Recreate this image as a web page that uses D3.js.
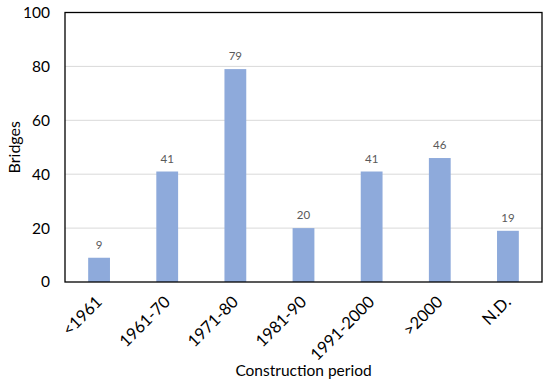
<!DOCTYPE html>
<html>
<head>
<meta charset="utf-8">
<script src="https://cdn.jsdelivr.net/npm/d3@7"></script>
<style>
  body { margin: 0; background: #fff; }
  text { font-family: Lato, "Open Sans", sans-serif; }
</style>
</head>
<body>
<div id="chart"></div>
<script>
// data
const periods = ["<1961", "1961-70", "1971-80", "1981-90", "1991-2000", ">2000", "N.D."];
const bridges = [9, 41, 79, 20, 41, 46, 19];
const yTicks = [0, 20, 40, 60, 80, 100];

const W = 550, H = 383;
const margin = { top: 12.5, right: 8, bottom: 101, left: 65 };
const width = W - margin.left - margin.right;
const height = H - margin.top - margin.bottom;

const svg = d3.select("#chart").append("svg")
    .attr("width", W)
    .attr("height", H);

const g = svg.append("g")
    .attr("transform", `translate(${margin.left},${margin.top})`);

let x = d3.scaleBand()
    .domain(periods)
    .range([0, width])
    .paddingInner(0.68)
    .paddingOuter(0.34);

let y = d3.scaleLinear()
    .domain([0, 100])
    .range([height, 0]);

// gridlines
g.selectAll(".grid")
    .data(yTicks.filter(d => d > 0 && d < 100))
    .enter()
    .append("line")
    .attr("x1", 0)
    .attr("x2", width)
    .attr("y1", d => y(d))
    .attr("y2", d => y(d))
    .style("stroke", "#d9d9d9")
    .style("stroke-width", 1);

// bars
g.selectAll(".bar")
    .data(periods)
    .enter()
    .append("rect")
    .attr("x", d => x(d))
    .attr("y", (d, i) => y(bridges[i]))
    .attr("width", x.bandwidth())
    .attr("height", (d, i) => height - y(bridges[i]))
    .attr("fill", "#8eaadb");

// value labels
g.selectAll(".val")
    .data(periods)
    .enter()
    .append("text")
    .attr("x", d => x(d) + x.bandwidth() / 2)
    .attr("y", (d, i) => y(bridges[i]) - 9)
    .attr("text-anchor", "middle")
    .style("font-size", "11.5px")
    .style("fill", "#595959")
    .text((d, i) => bridges[i]);

// frame
g.append("rect")
    .attr("width", width)
    .attr("height", height)
    .style("fill", "none")
    .style("stroke", "#000")
    .style("stroke-width", 1.3);

// y axis
const axeY = d3.axisLeft(y).tickValues(yTicks).tickSize(0).tickPadding(15);
const gy = g.append("g").call(axeY);
gy.select(".domain").remove();
gy.selectAll("text")
    .style("font-size", "15.5px")
    .style("fill", "#000")
    .style("font-family", "Lato, sans-serif");

// x axis labels (rotated)
const axeX = d3.axisBottom(x).tickSize(0).tickPadding(0);
const gx = g.append("g")
    .attr("transform", `translate(0,${height})`)
    .call(axeX);
gx.select(".domain").remove();
gx.selectAll("text")
    .style("font-size", "16.5px")
    .style("fill", "#000")
    .style("font-family", "Lato, sans-serif")
    .attr("text-anchor", "end")
    .attr("dy", "0")
    .attr("transform", "translate(4,21) rotate(-45)");

// axis titles
svg.append("text")
    .attr("transform", `translate(19.5,${margin.top + height / 2}) rotate(-90)`)
    .attr("text-anchor", "middle")
    .style("font-size", "16px")
    .text("Bridges");

svg.append("text")
    .attr("x", margin.left + width / 2)
    .attr("y", 376)
    .attr("text-anchor", "middle")
    .style("font-size", "15.5px")
    .text("Construction period");
</script>
</body>
</html>
